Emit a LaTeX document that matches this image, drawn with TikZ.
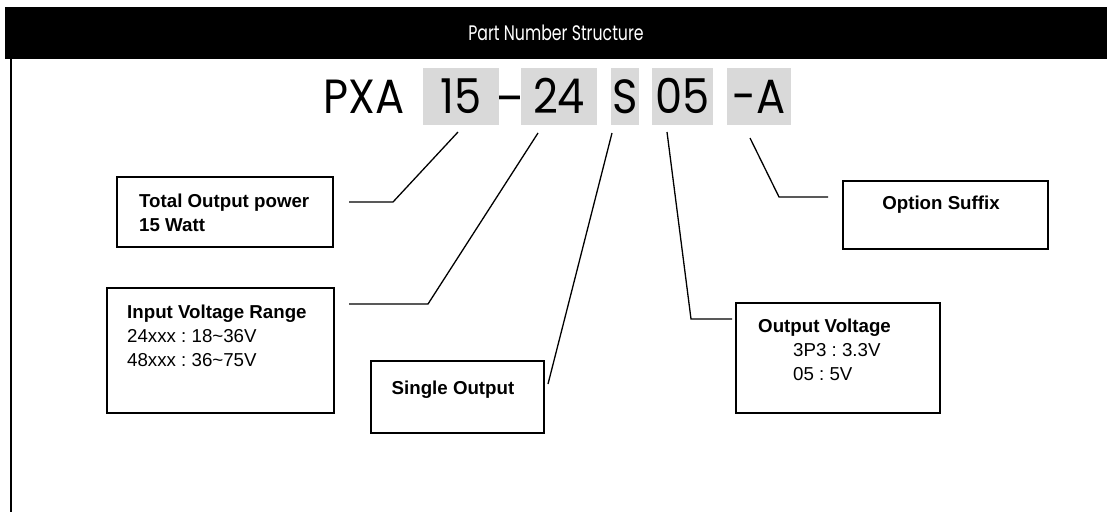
\documentclass[tikz,border=0pt]{standalone}
\usepackage{fontspec}
\setmainfont{Liberation Sans}
\newfontfamily\geofont[FakeStretch=0.9]{Poppins}
\newfontfamily\headfont[FakeStretch=0.75]{Poppins}
\definecolor{codegray}{HTML}{D9D9D9}
\frenchspacing
\tikzset{x=1pt, y=-1pt,
    infobox/.style={draw, line width=1.6pt, inner sep=0pt},
    infotext/.style={anchor=west, inner sep=0pt, align=left, font=\fontsize{18.7}{24}\selectfont},
    codepart/.style={fill=codegray, inner sep=0pt, text height=35pt, text depth=0pt,
        minimum height=57pt, font=\geofont\fontsize{48}{48}\selectfont},
    codetext/.style={inner sep=0pt, anchor=base, font=\geofont\fontsize{48}{48}\selectfont},
    leader/.style={line width=1.3pt}}

\begin{document}
\begin{tikzpicture}
    \useasboundingbox (0,0) rectangle (1107,512);
    % header
    \fill[black] (5,7) rectangle (1107,59);
    \node[white, inner sep=0pt, font=\headfont\fontsize{21}{21}\selectfont] (title) at (556,33) {Part Number Structure};
    \draw[line width=2pt] (11,59) -- (11,512);

    % part number
    \node[codetext] (pxa) at (364,113.5) {PXA};
    \node[codetext] (dash) at (509,115) {\textendash};
    \node[codepart, minimum width=76pt] (p15) at (461,96) {15};
    \node[codepart, minimum width=76pt] (p24) at (559,96) {24};
    \node[codepart, minimum width=28pt] (ps) at (625,96) {S};
    \node[codepart, minimum width=61pt] (p05) at (682.5,96) {05};
    \node[codepart, minimum width=64pt] (pa) at (759,96) {-A};

    % boxes
    \node[infobox, minimum width=216pt, minimum height=70pt] (power) at (225,212) {};
    \node[infotext] (powertxt) at (139,213) {\bfseries Total Output power\\\bfseries 15 Watt};
    \node[infobox, minimum width=227pt, minimum height=125pt] (input) at (220.5,350.5) {};
    \node[infotext] (inputtxt) at (127,336) {\bfseries Input Voltage Range\\24xxx : 18\textasciitilde36V\\48xxx : 36\textasciitilde75V};
    \node[infobox, minimum width=173pt, minimum height=72pt] (single) at (457.5,397) {};
    \node[infotext, anchor=center] (singletxt) at (453,390) {\bfseries Single Output};
    \node[infobox, minimum width=204pt, minimum height=110pt] (outv) at (838,358) {};
    \node[infotext] (outvtxt) at (758,350) {\bfseries Output Voltage\\\hspace{35pt}3P3 : 3.3V\\\hspace{35pt}05 : 5V};
    \node[infobox, minimum width=205pt, minimum height=68pt] (option) at (945.5,215) {};
    \node[infotext, anchor=center] (optiontxt) at (941,205) {\bfseries Option Suffix};

    % leaders
    \coordinate (s15) at (458,132);
    \coordinate (e15) at (349,202);
    \coordinate (s24) at (538,133);
    \coordinate (e24) at (349,304);
    \coordinate (ss) at (612,133);
    \coordinate (es) at (548,384);
    \coordinate (s05) at (667,132);
    \coordinate (e05) at (732,319);
    \coordinate (sa) at (750,138);
    \coordinate (ea) at (828,197);
    \draw[leader] (s15) -- (393,202) -- (e15);
    \draw[leader] (s24) -- (428,304) -- (e24);
    \draw[leader] (ss) -- (es);
    \draw[leader] (s05) -- (691,319) -- (e05);
    \draw[leader] (sa) -- (779,197) -- (ea);
\end{tikzpicture}
\end{document}
